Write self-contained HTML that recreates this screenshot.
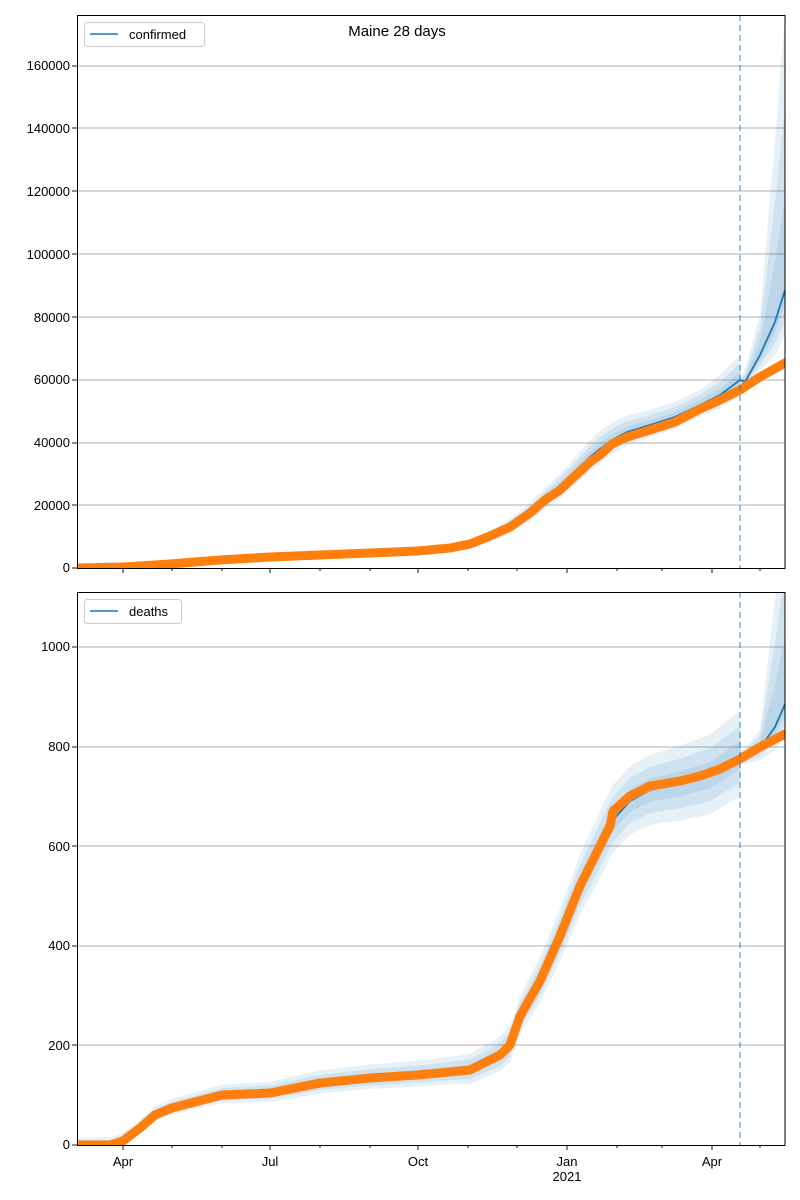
<!DOCTYPE html>
<html><head><meta charset="utf-8"><style>
body{margin:0;background:#fff}
svg{display:block;font-family:"Liberation Sans","DejaVu Sans",sans-serif}
</style></head><body>
<svg id="s" width="800" height="1200" viewBox="0 0 800 1200" xmlns="http://www.w3.org/2000/svg">
<defs><clipPath id="c1"><rect x="77" y="15" width="708" height="553"/></clipPath><clipPath id="c2"><rect x="77" y="592" width="708" height="553"/></clipPath></defs>
<rect width="800" height="1200" fill="#fff"/>
<g id="grid" stroke="#b0b0b0" stroke-width="0.9"></g>
<g clip-path="url(#c1)"><g id="b1"></g><g id="l1"></g></g>
<g clip-path="url(#c2)"><g id="b2"></g><g id="l2"></g></g>
<g stroke="#1f77b4" stroke-opacity="0.55" stroke-width="1.6" stroke-dasharray="6,4">
<line x1="740" y1="15" x2="740" y2="568"/><line x1="740" y1="592" x2="740" y2="1145"/>
</g>
<g fill="none" stroke="#000" stroke-width="1">
<rect x="77.5" y="15.5" width="707.5" height="553"/>
<rect x="77.5" y="592.5" width="707.5" height="553"/>
</g>
<g id="ticks" stroke="#000" stroke-width="0.9"></g>
<g font-size="13" fill="#000" text-anchor="end">
<text x="70" y="572">0</text><text x="70" y="510">20000</text><text x="70" y="447">40000</text><text x="70" y="384">60000</text><text x="70" y="322">80000</text><text x="70" y="259">100000</text><text x="70" y="196">120000</text><text x="70" y="133">140000</text><text x="70" y="70">160000</text>
<text x="70" y="1149">0</text><text x="70" y="1050">200</text><text x="70" y="950">400</text><text x="70" y="851">600</text><text x="70" y="751">800</text><text x="70" y="651">1000</text>
</g>
<g font-size="13" fill="#000" text-anchor="middle">
<text x="123" y="1166">Apr</text><text x="270" y="1166">Jul</text><text x="418" y="1166">Oct</text><text x="567" y="1166">Jan</text><text x="567" y="1181">2021</text><text x="712" y="1166">Apr</text>
<text x="397" y="36" font-size="15">Maine 28 days</text>
</g>
<g font-size="13">
<rect x="84.5" y="22.5" width="120" height="24" rx="3" fill="#fff" stroke="#ccc"/>
<line x1="90" y1="34" x2="118" y2="34" stroke="#1f77b4" stroke-width="1.6"/>
<text x="129" y="39">confirmed</text>
<rect x="84.5" y="599.5" width="97" height="24" rx="3" fill="#fff" stroke="#ccc"/>
<line x1="90" y1="611" x2="118" y2="611" stroke="#1f77b4" stroke-width="1.6"/>
<text x="129" y="616">deaths</text>
</g>
</svg>
<script>
const NS="http://www.w3.org/2000/svg";
function el(p,t,a){const e=document.createElementNS(NS,t);for(const k in a)e.setAttribute(k,a[k]);document.getElementById(p).appendChild(e);return e;}
function interp(pts,x){for(let i=0;i<pts.length-1;i++){if(x>=pts[i][0]&&x<=pts[i+1][0]){const t=(x-pts[i][0])/(pts[i+1][0]-pts[i][0]||1);return pts[i][1]+t*(pts[i+1][1]-pts[i][1]);}}return x<pts[0][0]?pts[0][1]:pts[pts.length-1][1];}
[505,443,380,317,254,191,128,66].forEach(y=>el("grid","line",{x1:77,x2:785,y1:y,y2:y}));
[1045,946,846,747,647].forEach(y=>el("grid","line",{x1:77,x2:785,y1:y,y2:y}));
const maj=[123,270,418,567,712],minr=[172,222,320,370,468,517,617,662,760];
[568,1145].forEach(b=>{maj.forEach(x=>el("ticks","line",{x1:x,x2:x,y1:b,y2:b+5}));minr.forEach(x=>el("ticks","line",{x1:x,x2:x,y1:b,y2:b+3}));
 const top=b===568?[568,505,443,380,317,254,191,128,66]:[1145,1045,946,846,747,647];top.forEach(y=>el("ticks","line",{x1:72,x2:77,y1:y,y2:y}));});
function band(g,center,up,lo,x0,x1,f,op){let a=[],b=[];for(let x=x0;x<=x1;x+=1){const c=interp(center,x);a.push(x+","+(c-interp(up,x)*f).toFixed(1));b.push(x+","+(c+interp(lo,x)*f).toFixed(1));}
 el(g,"polygon",{points:a.concat(b.reverse()).join(" "),fill:"#1f77b4","fill-opacity":op});}
function line(g,pts,x0,x1,attrs){let a=[];for(let x=x0;x<=x1;x+=1)a.push(x+","+interp(pts,x).toFixed(1));el(g,"polyline",Object.assign({points:a.join(" "),fill:"none"},attrs));}
function panel(bg,lg,blue,orange,up,lo){
 [[1,0.11],[0.66,0.11],[0.33,0.11]].forEach(([f,op])=>{band(bg,blue,up,lo,77,740,f,op);band(bg,blue,up,lo,740,785,f,op);});
 line(lg,blue,77,785,{stroke:"#1f77b4","stroke-width":1.8});
 line(lg,orange,78,785,{stroke:"#ff7f0e","stroke-width":9,"stroke-linecap":"round","stroke-linejoin":"round"});
}
const oT=[[77,568],[123,567],[170,564],[220,560],[270,557],[320,555],[370,553],[418,551],[450,548],[470,544],[490,536],[510,527],[530,513],[545,500],[560,490],[575,476],[590,462],[600,455],[612,444],[627,437],[650,430],[675,422],[700,409],[720,400],[740,390],[760,377],[785,363]];
const bT=[[77,568],[123,567],[170,564],[220,560],[270,557],[320,555],[370,553],[418,551],[450,548],[470,544],[490,536],[510,526],[530,512],[545,499],[560,487],[575,472],[590,457],[600,449],[612,440],[627,432],[650,425],[675,417],[700,405],[720,395],[740,380],[745,382],[760,355],[775,322],[785,290]];
const upT=[[77,1],[450,3],[520,8],[600,18],[650,15],[700,15],[740,25],[741,4],[760,40],[785,275]];
const loT=[[77,1],[450,3],[520,8],[600,15],[650,12],[700,12],[740,15],[741,4],[760,15],[785,45]];
panel("b1","l1",bT,oT,upT,loT);
const oB=[[77,1145],[110,1145],[123,1141],[140,1128],[155,1115],[172,1108],[222,1095],[270,1093],[320,1083],[370,1078],[418,1075],[470,1070],[500,1055],[510,1045],[520,1016],[540,981],[560,936],[580,886],[600,846],[610,826],[613,811],[630,796],[650,786],[680,781],[700,776],[720,769],[740,759],[760,747],[785,734]];
const bB=[[77,1145],[110,1145],[123,1141],[140,1128],[155,1115],[172,1108],[222,1095],[270,1093],[320,1083],[370,1078],[418,1075],[470,1070],[500,1055],[510,1045],[520,1016],[540,981],[560,936],[580,886],[600,846],[612,821],[630,801],[650,790],[680,784],[710,776],[740,756],[745,757],[760,748],[775,727],[785,704]];
const upB=[[77,7],[300,12],[450,15],[520,20],[600,35],[650,35],[740,45],[741,6],[760,18],[785,200]];
const loB=[[77,4],[300,10],[450,12],[520,18],[600,32],[650,35],[740,40],[741,6],[760,12],[785,30]];
panel("b2","l2",bB,oB,upB,loB);
</script>
</body></html>
